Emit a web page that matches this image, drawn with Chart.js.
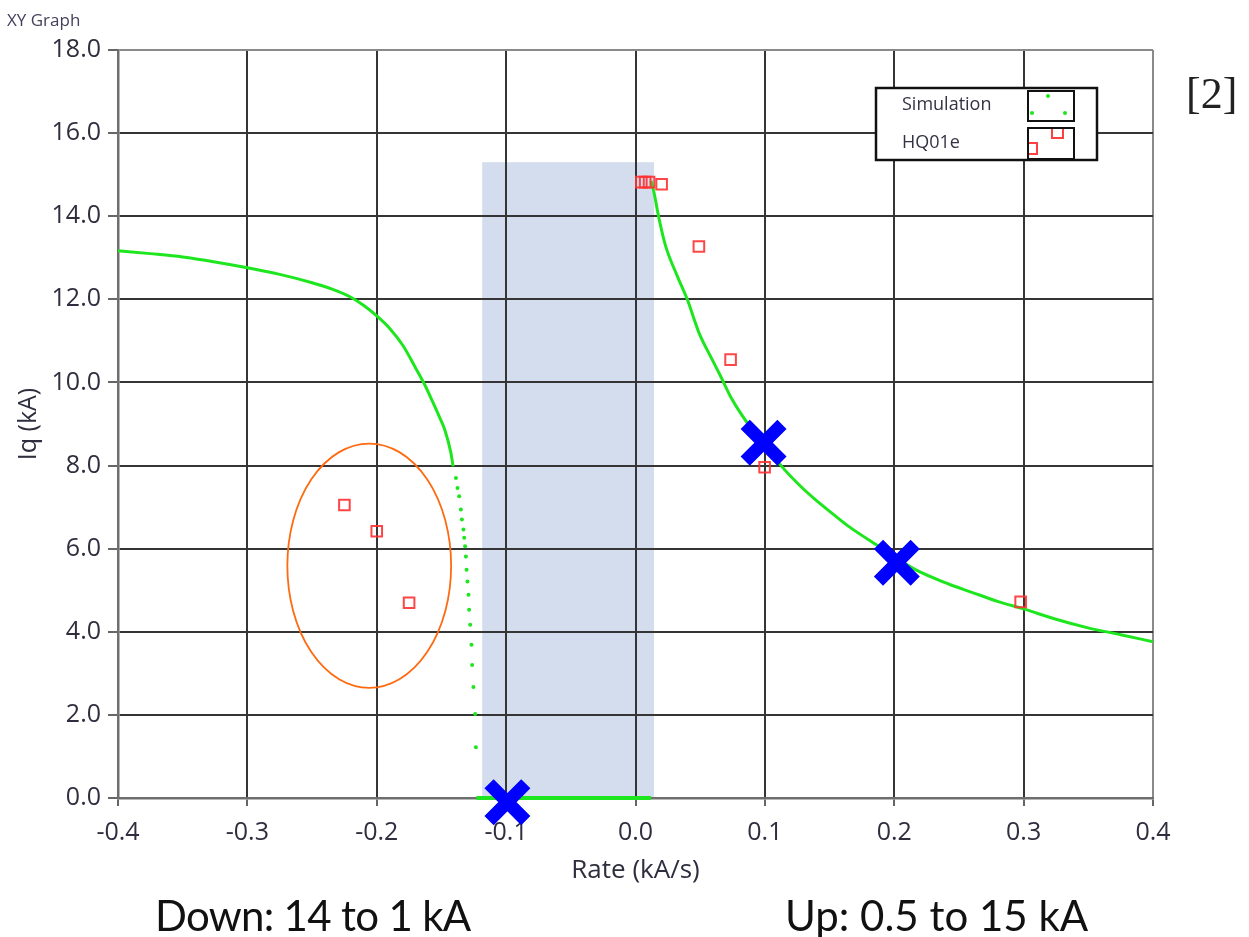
<!DOCTYPE html>
<html>
<head>
<meta charset="utf-8">
<script src="https://cdn.jsdelivr.net/npm/chart.js@4"></script>
<style>
    body { margin: 0; background: #fff; }
    #wrap { position: relative; width: 1249px; height: 937px; }
    #xyChart { position: absolute; left: 0; top: 0; }
    .note { position: absolute; white-space: nowrap; line-height: 1; }
</style>
</head>
<body>
<div id="wrap">
    <canvas id="xyChart" width="1249" height="937"></canvas>
    <div class="note" style="left:7px; top:8px; font:17px 'Open Sans'; color:#46405c;">XY Graph</div>
    <div class="note" style="left:1186px; top:68px; font:44px 'Liberation Serif'; color:#222;">[2]</div>
    <div class="note" style="left:155px; top:890px; font:42px Lato; letter-spacing:-0.7px; color:#111;">Down: 14 to 1 kA</div>
    <div class="note" style="left:785px; top:890px; font:42px Lato; color:#111;">Up: 0.5 to 15 kA</div>
</div>
<script>
// Деления осей
const rateTicks = [-0.4, -0.3, -0.2, -0.1, 0.0, 0.1, 0.2, 0.3, 0.4];
const iqTicks = [0, 2, 4, 6, 8, 10, 12, 14, 16, 18];

// Simulation: ветка "вниз" (сплошная часть)
const simDownRate = [-0.4, -0.375, -0.35, -0.325, -0.3, -0.275, -0.25, -0.235, -0.22, -0.21, -0.2, -0.19, -0.18, -0.17, -0.163, -0.157, -0.152, -0.1473, -0.1427, -0.141];
const simDownIq = [13.17, 13.1, 13.02, 12.9, 12.76, 12.6, 12.4, 12.25, 12.05, 11.85, 11.6, 11.3, 10.9, 10.35, 9.95, 9.55, 9.2, 8.85, 8.31, 7.98];

// Simulation: редкие точки у асимптоты
const simDotsRate = [-0.1388, -0.1376, -0.1363, -0.135, -0.1342, -0.133, -0.1324, -0.1317, -0.1311, -0.1306, -0.1299, -0.1291, -0.1286, -0.1278, -0.1268, -0.1263, -0.1253, -0.1239, -0.1234];
const simDotsIq = [7.7, 7.46, 7.26, 6.94, 6.7, 6.46, 6.26, 6.06, 5.81, 5.49, 5.21, 4.89, 4.53, 4.17, 3.69, 3.2, 2.67, 2.02, 1.22];

// Simulation: ноль
const simFlatRate = [-0.123, 0.012];
const simFlatIq = [0, 0];

// Simulation: ветка "вверх"
const simUpRate = [0.012, 0.0143, 0.018, 0.0233, 0.0323, 0.04, 0.049, 0.0593, 0.0658, 0.0745, 0.087, 0.1, 0.113, 0.126, 0.139, 0.152, 0.165, 0.19, 0.216, 0.242, 0.26, 0.281, 0.3, 0.325, 0.349, 0.375, 0.4];
const simUpIq = [14.85, 14.57, 13.97, 13.28, 12.56, 12.0, 11.2, 10.55, 10.15, 9.6, 9.0, 8.5, 7.98, 7.55, 7.18, 6.85, 6.53, 6.02, 5.5, 5.15, 4.95, 4.72, 4.55, 4.3, 4.1, 3.93, 3.76];

// HQ01e измерения
const hqRate = [-0.225, -0.2, -0.175, 0.0045, 0.0075, 0.0105, 0.0202, 0.049, 0.0735, 0.0998, 0.2977];
const hqIq = [7.05, 6.42, 4.7, 14.82, 14.82, 14.82, 14.77, 13.27, 10.55, 7.96, 4.72];

// Синие кресты
const markRate = [-0.099, 0.099, 0.202];
const markIq = [-0.1, 8.55, 5.66];

// Выделенная область и эллипс (в координатах данных)
const shadeRate = [-0.1185, 0.0143];
const shadeIq = [0, 15.3];
const ellipseCenter = [-0.2058, 5.59];
const ellipseRadius = [0.0633, 2.94];

const GREEN = '#1ee61e';
const pts = (xs, ys) => xs.map((x, i) => ({ x: x, y: ys[i] }));

// Фон-прямоугольник до сетки, эллипс и легенда поверх
const extras = {
    id: 'extras',
    beforeDraw(chart) {
        const { ctx, scales: { x, y } } = chart;
        const x0 = x.getPixelForValue(shadeRate[0]), x1 = x.getPixelForValue(shadeRate[1]);
        const y0 = y.getPixelForValue(shadeIq[1]), y1 = y.getPixelForValue(shadeIq[0]);
        ctx.save();
        ctx.fillStyle = '#d3ddee';
        ctx.fillRect(x0, y0, x1 - x0, y1 - y0);
        ctx.restore();
    },
    afterDraw(chart) {
        const { ctx, scales: { x, y } } = chart;
        ctx.save();
        // эллипс
        const cx = x.getPixelForValue(ellipseCenter[0]);
        const cy = y.getPixelForValue(ellipseCenter[1]);
        const rx = Math.abs(x.getPixelForValue(ellipseCenter[0] + ellipseRadius[0]) - cx);
        const ry = Math.abs(y.getPixelForValue(ellipseCenter[1] + ellipseRadius[1]) - cy);
        ctx.strokeStyle = '#ff6a10';
        ctx.lineWidth = 1.8;
        ctx.beginPath();
        ctx.ellipse(cx, cy, rx, ry, 0, 0, Math.PI * 2);
        ctx.stroke();

        // легенда
        ctx.fillStyle = '#fff';
        ctx.fillRect(876, 88, 221, 72);
        ctx.strokeStyle = '#111';
        ctx.lineWidth = 2.5;
        ctx.strokeRect(876, 88, 221, 72);
        ctx.lineWidth = 2;
        ctx.strokeRect(1028, 91, 46, 30);
        ctx.strokeRect(1028, 128, 46, 31);
        ctx.font = "18px 'Open Sans'";
        ctx.fillStyle = '#333345';
        ctx.textBaseline = 'middle';
        ctx.fillText('Simulation', 902, 105);
        ctx.fillText('HQ01e', 902, 143);
        ctx.fillStyle = GREEN;
        [[1048, 96], [1032, 113], [1065, 113]].forEach(p => {
            ctx.beginPath();
            ctx.arc(p[0], p[1], 2, 0, Math.PI * 2);
            ctx.fill();
        });
        ctx.beginPath();
        ctx.rect(1029, 129, 44, 29);
        ctx.clip();
        ctx.strokeStyle = '#ff4040';
        ctx.lineWidth = 2;
        ctx.strokeRect(1052, 127, 11, 11);
        ctx.strokeRect(1026, 143, 11, 11);
        ctx.restore();
    }
};

document.addEventListener('DOMContentLoaded', function() {
    const ctx = document.getElementById('xyChart').getContext('2d');

    new Chart(ctx, {
        type: 'scatter',
        data: {
            datasets: [
                {
                    label: 'marks',
                    data: pts(markRate, markIq),
                    pointStyle: 'crossRot',
                    pointRadius: 26,
                    borderWidth: 13,
                    borderColor: '#0000ff',
                    backgroundColor: '#0000ff',
                    clip: false
                },
                {
                    label: 'HQ01e',
                    data: pts(hqRate, hqIq),
                    pointStyle: 'rect',
                    pointRadius: 7.5,
                    borderWidth: 2,
                    borderColor: 'rgba(255, 50, 50, 0.9)',
                    backgroundColor: 'rgba(0, 0, 0, 0)'
                },
                {
                    label: 'Simulation',
                    data: pts(simDownRate, simDownIq),
                    showLine: true,
                    cubicInterpolationMode: 'monotone',
                    borderColor: GREEN,
                    borderWidth: 3,
                    pointRadius: 0
                },
                {
                    label: 'Simulation dots',
                    data: pts(simDotsRate, simDotsIq),
                    pointRadius: 2,
                    borderWidth: 0,
                    backgroundColor: GREEN
                },
                {
                    label: 'Simulation zero',
                    data: pts(simFlatRate, simFlatIq),
                    showLine: true,
                    borderColor: GREEN,
                    borderWidth: 4,
                    pointRadius: 0,
                    clip: false
                },
                {
                    label: 'Simulation up',
                    data: pts(simUpRate, simUpIq),
                    showLine: true,
                    cubicInterpolationMode: 'monotone',
                    borderColor: GREEN,
                    borderWidth: 3,
                    pointRadius: 0
                }
            ]
        },
        options: {
            responsive: false,
            animation: false,
            events: [],
            layout: {
                padding: { top: 50, right: 96, bottom: 0, left: 0 }
            },
            plugins: {
                legend: { display: false },
                tooltip: { enabled: false }
            },
            scales: {
                x: {
                    type: 'linear',
                    min: -0.4,
                    max: 0.4,
                    afterBuildTicks: function(scale) {
                        scale.ticks = rateTicks.map(v => ({ value: v }));
                    },
                    afterFit: function(scale) {
                        scale.height = 139;
                    },
                    ticks: {
                        callback: function(value) {
                            return Number(value).toFixed(1);
                        },
                        padding: 12,
                        color: '#2e2e3e',
                        font: { family: 'Open Sans', size: 25 }
                    },
                    title: {
                        display: true,
                        text: 'Rate (kA/s)',
                        color: '#2e2e3e',
                        padding: { top: 0, bottom: 51 },
                        font: { family: 'Open Sans', size: 26 }
                    },
                    grid: {
                        color: ctx => (ctx.tick && ctx.tick.value === 0.4) ? '#8a8a8a' : '#353535',
                        lineWidth: 2,
                        tickLength: 8,
                        tickColor: '#666',
                        tickWidth: 2
                    },
                    border: { color: '#6e6e6e', width: 2.5 }
                },
                y: {
                    type: 'linear',
                    min: 0,
                    max: 18,
                    afterBuildTicks: function(scale) {
                        scale.ticks = iqTicks.map(v => ({ value: v }));
                    },
                    afterFit: function(scale) {
                        scale.width = 118;
                    },
                    ticks: {
                        callback: function(value) {
                            return Number(value).toFixed(1);
                        },
                        padding: 7,
                        color: '#2e2e3e',
                        font: { family: 'Open Sans', size: 25 }
                    },
                    title: {
                        display: true,
                        text: 'Iq (kA)',
                        color: '#2e2e3e',
                        padding: { top: 14, bottom: 0 },
                        font: { family: 'Open Sans', size: 25 }
                    },
                    grid: {
                        color: ctx => (ctx.tick && ctx.tick.value === 18) ? '#8a8a8a' : '#353535',
                        lineWidth: 2,
                        tickLength: 10,
                        tickColor: '#666',
                        tickWidth: 2
                    },
                    border: { color: '#6e6e6e', width: 2.5 }
                }
            }
        },
        plugins: [extras]
    });
});
</script>
</body>
</html>
